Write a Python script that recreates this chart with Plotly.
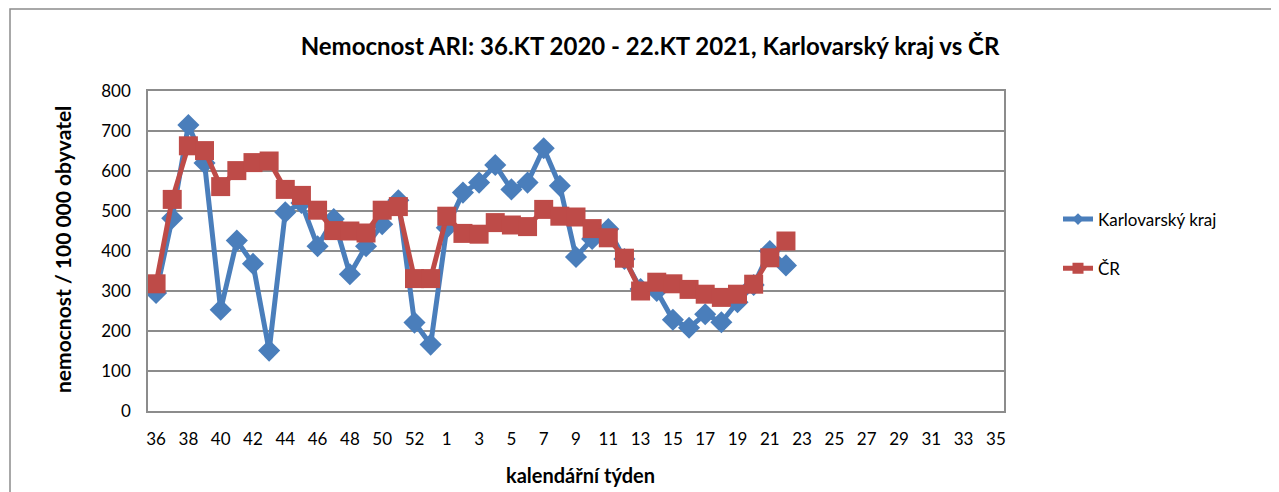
import plotly.graph_objects as go

weeks = [str(w) for w in range(36, 54)] + [str(w) for w in range(1, 36)]
karlovarsky = [295, 482, 715, 620, 253, 426, 368, 151, 497, 520, 412, 480, 342, 412, 467, 527,
               221, 166, 458, 546, 571, 615, 554, 571, 657, 563, 385, 430, 455, 380, 305,
               300, 228, 208, 242, 222, 272, 315, 400, 364]
cr = [318, 529, 663, 651, 561, 601, 621, 625, 554, 539, 502, 451, 450, 445, 502, 511,
      331, 331, 487, 444, 442, 471, 465, 461, 504, 487, 485, 456, 433, 382, 300,
      322, 318, 304, 292, 284, 292, 317, 383, 425]

FONT = "Lato, sans-serif"
BLUE = "#4A7EBB"
RED = "#BE4B48"
GRID = "#8C8C8C"
idx = list(range(len(weeks)))

# plot area in screen px (page has 8px body margin)
PL, PR, PT, PB = 148, 1004, 91, 411
PW, PH = PR - PL, PB - PT

fig = go.Figure()
fig.add_trace(go.Scatter(
    x=idx[:len(karlovarsky)], y=karlovarsky, name="Karlovarský kraj", mode="lines+markers",
    line=dict(color=BLUE, width=5), showlegend=False,
    marker=dict(symbol="diamond", size=17, color=BLUE)))
fig.add_trace(go.Scatter(
    x=idx[:len(cr)], y=cr, name="ČR", mode="lines+markers",
    line=dict(color=RED, width=5), showlegend=False,
    marker=dict(symbol="square", size=19, color=RED)))
# legend entries with small markers
fig.add_trace(go.Scatter(x=[None], y=[None], name="Karlovarský kraj", mode="lines+markers",
                         legendgroup="a", line=dict(color=BLUE, width=5),
                         marker=dict(symbol="diamond", size=9, color=BLUE)))
fig.add_trace(go.Scatter(x=[None], y=[None], name="ČR", mode="lines+markers",
                         legendgroup="b", line=dict(color=RED, width=5),
                         marker=dict(symbol="square", size=11, color=RED)))

fig.update_layout(
    width=1271, height=484,
    margin=dict(l=PL - 8, r=1279 - PR, t=PT - 8, b=492 - PB),
    paper_bgcolor="white", plot_bgcolor="white",
    font=dict(family=FONT, size=17, color="black"),
    title=dict(text="<b>Nemocnost ARI: 36.KT 2020 - 22.KT 2021, Karlovarský kraj vs ČR</b>",
               x=642 / 1271, xanchor="center", y=1 - 39 / 484, yanchor="middle",
               font=dict(family=FONT, size=24)),
    showlegend=True,
    legend=dict(x=1 + (1058 - PR) / PW, xanchor="left", y=(PB - 244) / PH, yanchor="middle",
                font=dict(family=FONT, size=17), tracegroupgap=24,
                bgcolor="rgba(0,0,0,0)"),
    xaxis=dict(range=[-0.5, len(weeks) - 0.5], tickmode="array",
               tickvals=idx[::2], ticktext=weeks[::2],
               showgrid=False, zeroline=False, showline=True, linecolor=GRID, linewidth=1.5,
               mirror=True, ticks="", ticklabelstandoff=12, tickfont=dict(family=FONT, size=17)),
    yaxis=dict(range=[0, 800], dtick=100, showgrid=True, gridcolor=GRID, gridwidth=1.5,
               zeroline=False, showline=True, linecolor=GRID, linewidth=1.5, mirror=True,
               ticks="", ticklabelstandoff=12, tickfont=dict(family=FONT, size=17)),
    annotations=[
        dict(text="<b>kalendářní týden</b>", xref="paper", yref="paper",
             x=(580 - PL) / PW, y=(PB - 475) / PH, xanchor="center", yanchor="middle",
             showarrow=False, font=dict(family=FONT, size=20)),
        dict(text="<b>nemocnost / 100 000 obyvatel</b>", xref="paper", yref="paper",
             x=(62 - PL) / PW, y=(PB - 250) / PH, xanchor="center", yanchor="middle",
             textangle=-90, showarrow=False, font=dict(family=FONT, size=21)),
    ],
)

fig.add_shape(type="rect", xref="paper", yref="paper",
              x0=(10 - PL) / PW, x1=(1275 - PL) / PW, y0=-0.5, y1=(PB - 9) / PH,
              line=dict(color=GRID, width=1.5), layer="below")

fig.write_html("out.html")
